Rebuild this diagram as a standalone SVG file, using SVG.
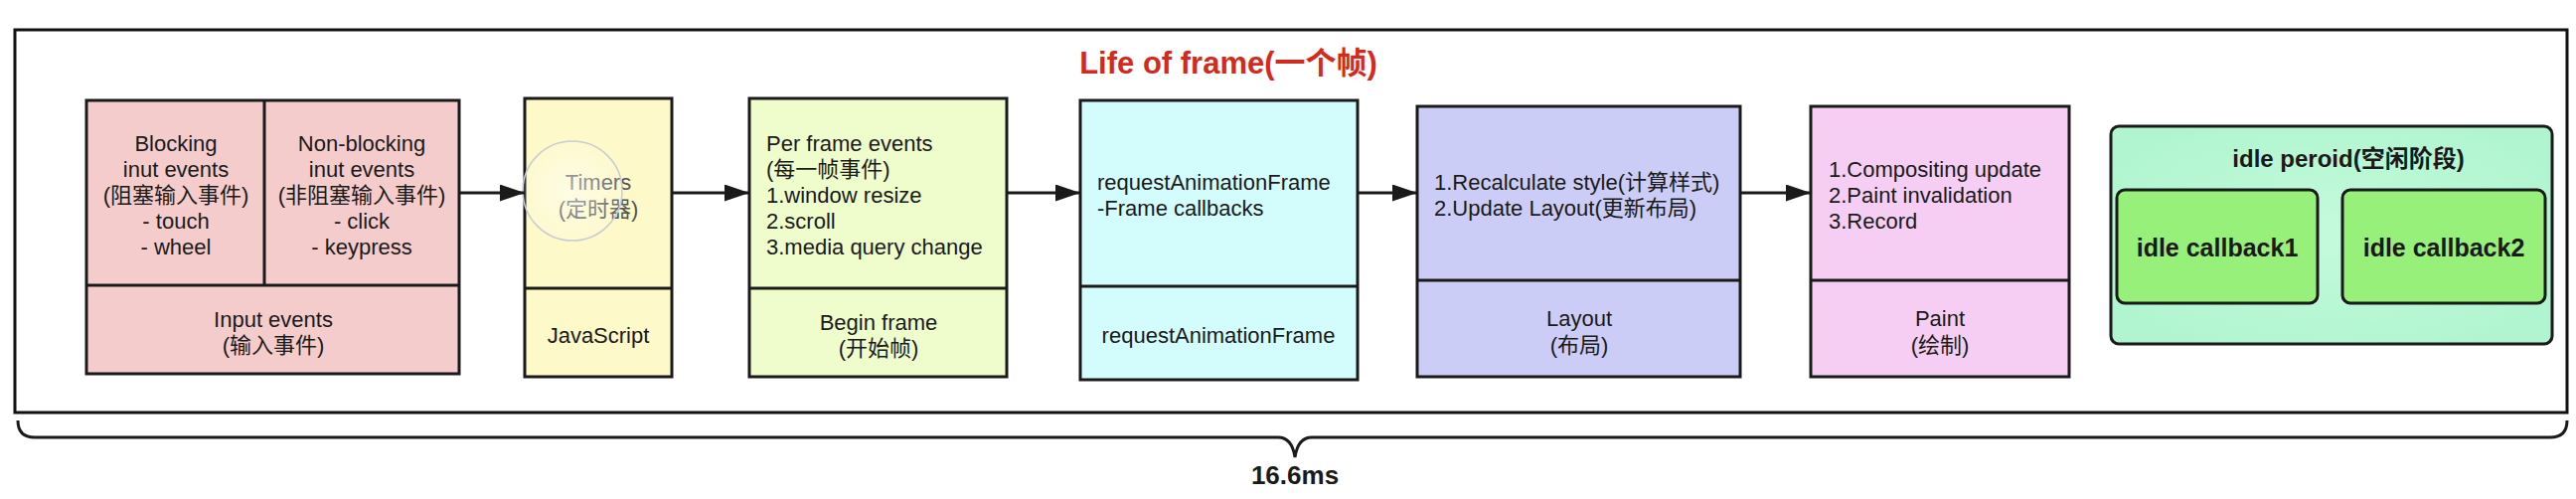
<svg xmlns="http://www.w3.org/2000/svg" width="2592" height="502" viewBox="0 0 2592 502">
<defs>
<style>
.box{stroke:#1a1a1a;stroke-width:3}
.t{font-family:"Liberation Sans","Noto Sans CJK SC",sans-serif;font-size:22px;fill:#1a1a1a}
.c{text-anchor:middle}
.b{font-weight:bold}
.edge{stroke:#1a1a1a;stroke-width:3;fill:none}
</style>
<marker id="ah" markerWidth="25" markerHeight="17" refX="25" refY="8.5" orient="auto" markerUnits="userSpaceOnUse">
<path d="M0,0 L25,8.5 L0,17 Z" fill="#1a1a1a"/>
</marker>
<radialGradient id="glow" cx="0.5" cy="0.5" r="0.5">
<stop offset="0" stop-color="#ffffff" stop-opacity="0.5"/>
<stop offset="1" stop-color="#ffffff" stop-opacity="0.12"/>
</radialGradient>
<radialGradient id="idleg" cx="0.5" cy="0.5" r="0.6">
<stop offset="0" stop-color="#c4fadc"/>
<stop offset="1" stop-color="#b0f5cf"/>
</radialGradient>
</defs>
<rect width="2592" height="502" fill="#ffffff"/>
<g id="frame">
<rect x="15" y="30" width="2568" height="385" fill="none" stroke="#111" stroke-width="3"/>
<text class="t c b" x="1236" y="74" style="font-size:31px;fill:#d42a1e">Life of frame(一个帧)</text>
</g>
<g id="input">
<rect class="box" x="87" y="101" width="375" height="275" fill="#f4cccb"/>
<line class="box" x1="266" y1="101" x2="266" y2="287"/>
<line class="box" x1="87" y1="287" x2="462" y2="287"/>
<text class="t c" x="177" y="152">Blocking</text>
<text class="t c" x="177" y="178">inut events</text>
<text class="t c" x="177" y="204">(阻塞输入事件)</text>
<text class="t c" x="177" y="230">- touch</text>
<text class="t c" x="177" y="256">- wheel</text>
<text class="t c" x="364" y="152">Non-blocking</text>
<text class="t c" x="364" y="178">inut events</text>
<text class="t c" x="364" y="204">(非阻塞输入事件)</text>
<text class="t c" x="364" y="230">- click</text>
<text class="t c" x="364" y="256">- keypress</text>
<text class="t c" x="275" y="329">Input events</text>
<text class="t c" x="275" y="355">(输入事件)</text>
</g>
<g id="timers">
<rect class="box" x="528" y="99" width="148" height="280" fill="#fdf9c9"/>
<line class="box" x1="528" y1="290" x2="676" y2="290"/>
<text class="t c" x="602" y="191" style="fill:#555">Timers</text>
<text class="t c" x="602" y="218" style="fill:#555">(定时器)</text>
<text class="t c" x="602" y="345">JavaScript</text>
<circle cx="576" cy="192" r="50" fill="url(#glow)" stroke="#c9cbd9" stroke-width="1.5"/>
</g>
<g id="beginframe">
<rect class="box" x="754" y="99" width="259" height="280" fill="#effccc"/>
<line class="box" x1="754" y1="290" x2="1013" y2="290"/>
<text class="t" x="771" y="152">Per frame events</text>
<text class="t" x="771" y="178">(每一帧事件)</text>
<text class="t" x="771" y="204">1.window resize</text>
<text class="t" x="771" y="230">2.scroll</text>
<text class="t" x="771" y="256">3.media query change</text>
<text class="t c" x="884" y="332">Begin frame</text>
<text class="t c" x="884" y="358">(开始帧)</text>
</g>
<g id="raf">
<rect class="box" x="1087" y="101" width="279" height="281" fill="#d3fcfc"/>
<line class="box" x1="1087" y1="288" x2="1366" y2="288"/>
<text class="t" x="1104" y="191">requestAnimationFrame</text>
<text class="t" x="1104" y="217">-Frame callbacks</text>
<text class="t c" x="1226" y="345">requestAnimationFrame</text>
</g>
<g id="layout">
<rect class="box" x="1426" y="107" width="325" height="272" fill="#cbcdf6"/>
<line class="box" x1="1426" y1="282" x2="1751" y2="282"/>
<text class="t" x="1443" y="191">1.Recalculate style(计算样式)</text>
<text class="t" x="1443" y="217">2.Update Layout(更新布局)</text>
<text class="t c" x="1589" y="328">Layout</text>
<text class="t c" x="1589" y="355">(布局)</text>
</g>
<g id="paint">
<rect class="box" x="1822" y="107" width="260" height="272" fill="#f6cef4"/>
<line class="box" x1="1822" y1="282" x2="2082" y2="282"/>
<text class="t" x="1840" y="178">1.Compositing update</text>
<text class="t" x="1840" y="204">2.Paint invalidation</text>
<text class="t" x="1840" y="230">3.Record</text>
<text class="t c" x="1952" y="328">Paint</text>
<text class="t c" x="1952" y="355">(绘制)</text>
</g>
<g id="idle">
<rect class="box" x="2124" y="127" width="444" height="219" rx="8" fill="url(#idleg)"/>
<text class="t c b" x="2363" y="168" style="font-size:24px">idle peroid(空闲阶段)</text>
</g>
<g id="idlecb1">
<rect class="box" x="2130" y="191" width="202" height="114" rx="8" fill="#96f07a"/>
<text class="t c b" x="2231" y="258" style="font-size:25px">idle callback1</text>
</g>
<g id="idlecb2">
<rect class="box" x="2357" y="191" width="204" height="114" rx="8" fill="#96f07a"/>
<text class="t c b" x="2459" y="258" style="font-size:25px">idle callback2</text>
</g>
<g id="connectors">
<line class="edge" x1="462" y1="194" x2="528" y2="194" marker-end="url(#ah)"/>
<line class="edge" x1="676" y1="194" x2="754" y2="194" marker-end="url(#ah)"/>
<line class="edge" x1="1013" y1="194" x2="1087" y2="194" marker-end="url(#ah)"/>
<line class="edge" x1="1366" y1="194" x2="1426" y2="194" marker-end="url(#ah)"/>
<line class="edge" x1="1751" y1="194" x2="1822" y2="194" marker-end="url(#ah)"/>
</g>
<g id="duration">
<path class="edge" d="M18,423 Q18,440 35,440 L1286,440 Q1300,440 1303,460 Q1306,440 1320,440 L2566,440 Q2583,440 2583,423"/>
<text class="t c b" x="1303" y="487" style="font-size:26px">16.6ms</text>
</g>
</svg>
